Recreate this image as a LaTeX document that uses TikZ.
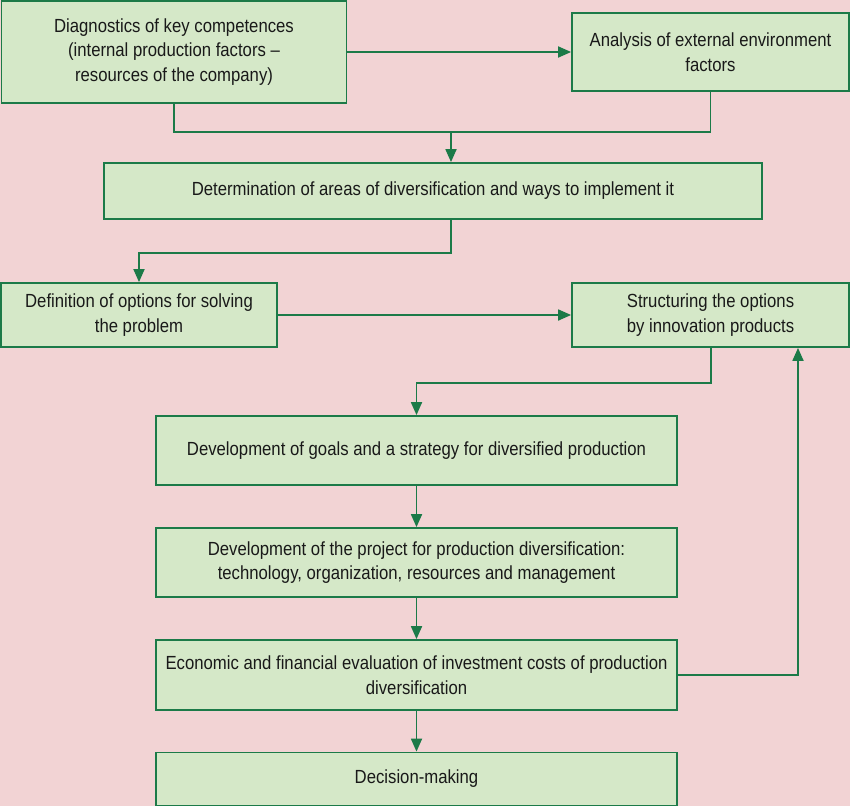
\documentclass[tikz,border=0pt]{standalone}
\usepackage{fontspec}
\setmainfont{Liberation Sans}[FakeStretch=0.88]
\usetikzlibrary{arrows.meta}
\definecolor{bgpink}{RGB}{242,211,212}
\definecolor{boxfill}{RGB}{213,232,200}
\definecolor{dkgreen}{RGB}{28,122,72}
\definecolor{txt}{RGB}{25,25,25}
\tikzset{
  box/.style={draw=dkgreen, line width=1.8pt, fill=boxfill, inner sep=0pt, align=center,
    text=txt, font=\fontsize{19}{24.5}\selectfont},
  arr/.style={draw=dkgreen, line width=1.8pt, -{Triangle[length=13pt,width=11pt]}},
  ln/.style={draw=dkgreen, line width=1.8pt}
}
\begin{document}
\begin{tikzpicture}[x=1pt,y=-1pt]
\fill[bgpink] (0,0) rectangle (850,806);
\useasboundingbox (0,0) rectangle (850,806);
\node[box, minimum width=345pt, minimum height=102pt] (b1) at (174,52)
  {Diagnostics of key competences\\(internal production factors –\\resources of the company)};
\node[box, minimum width=277pt, minimum height=78pt] (b2) at (710.5,52)
  {Analysis of external environment\\factors};
\node[box, minimum width=658pt, minimum height=56pt] (b3) at (433,191)
  {Determination of areas of diversification and ways to implement it};
\node[box, minimum width=276pt, minimum height=64pt] (b4) at (139,315)
  {Definition of options for solving\\the problem};
\node[box, minimum width=277pt, minimum height=64pt] (b5) at (710.5,315)
  {Structuring the options\\by innovation products};
\node[box, minimum width=521pt, minimum height=69pt] (b6) at (416.5,450.5)
  {Development of goals and a strategy for diversified production};
\node[box, minimum width=521pt, minimum height=69pt] (b7) at (416.5,562.5)
  {Development of the project for production diversification:\\technology, organization, resources and management};
\node[box, minimum width=521pt, minimum height=70pt] (b8) at (416.5,675)
  {Economic and financial evaluation of investment costs of production\\diversification};
\node[box, minimum width=521pt, minimum height=53pt] (b9) at (416.5,779)
  {Decision-making};
\coordinate (j1) at (451,132);
\coordinate (j2) at (451,253);
\coordinate (j3) at (711,383);
\coordinate (j4) at (798,675);
\draw[arr] (b1.east) -- (b2.west);
\draw[ln] (b1.south) |- (j1) -| (b2.south);
\draw[arr] (j1) -- (b3.north -| j1);
\draw[arr] (b3.south -| j2) -- (j2) -| (b4.north);
\draw[arr] (b4.east) -- (b5.west);
\draw[arr] (b5.south -| j3) -- (j3) -| (b6.north);
\draw[arr] (b6.south) -- (b7.north);
\draw[arr] (b7.south) -- (b8.north);
\draw[arr] (b8.south) -- (b9.north);
\draw[arr] (b8.east) -- (j4) -- (b5.south -| j4);
\end{tikzpicture}
\end{document}
